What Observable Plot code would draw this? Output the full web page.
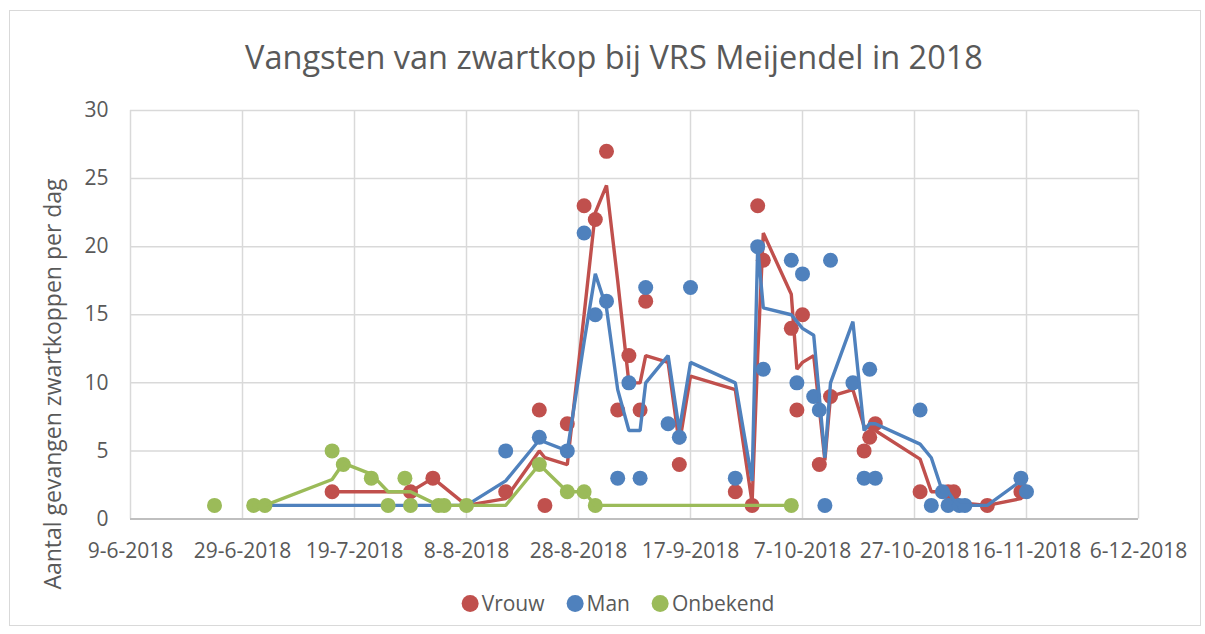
<!DOCTYPE html>
<html>
<head>
<meta charset="utf-8">
<script src="https://cdn.jsdelivr.net/npm/d3@7"></script>
<script src="https://cdn.jsdelivr.net/npm/@observablehq/plot@0.6"></script>
<style>
  body { margin: 0; background: #fff; font-family: "Open Sans", sans-serif; }
  #chart { position: relative; width: 1205px; height: 634px; overflow: hidden; background: #fff; }
  #frame { position: absolute; left: 9px; top: 10px; width: 1192px; height: 616px; border: 1px solid #d9d9d9; box-sizing: border-box; }
  #title { position: absolute; top: 36px; left: 614px; transform: translateX(-50%); white-space: nowrap;
           font-size: 32.5px; color: #595959; line-height: 42px; }
  #plot { position: absolute; left: 0; top: 90px; }
  #ylabel { position: absolute; left: 52px; top: 384px; transform: translate(-50%, -50%) rotate(-90deg);
            white-space: nowrap; font-size: 23px; color: #595959; line-height: 30px; }
  #legend { position: absolute; top: 588px; left: 618px; transform: translateX(-50%); white-space: nowrap;
            font-size: 21px; color: #595959; line-height: 30px; display: flex; gap: 22px; }
  #legend .item { display: flex; align-items: center; gap: 3px; }
  #legend .sw { display: inline-block; width: 17px; height: 17px; border-radius: 50%; }
</style>
</head>
<body>
<div id="chart">
  <div id="frame"></div>
  <div id="title"></div>
  <div id="plot"></div>
  <div id="ylabel"></div>
  <div id="legend"></div>
</div>
<script>
// ---- Data ----
const titleText = "Vangsten van zwartkop bij VRS Meijendel in 2018";
const yLabelText = "Aantal gevangen zwartkoppen per dag";
const seriesNames = ["Vrouw", "Man", "Onbekend"];
const seriesColors = ["#C0504D", "#4F81BD", "#9BBB59"];

const xTickLabels = ["9-6-2018","29-6-2018","19-7-2018","8-8-2018","28-8-2018","17-9-2018","7-10-2018","27-10-2018","16-11-2018","6-12-2018"];
const yTicks = [0, 5, 10, 15, 20, 25, 30];

const vrouwDates = ["2018-07-15","2018-07-29","2018-08-02","2018-08-15","2018-08-21","2018-08-22","2018-08-26","2018-08-29","2018-08-31","2018-09-02","2018-09-04","2018-09-06","2018-09-08","2018-09-09","2018-09-15","2018-09-25","2018-09-28","2018-09-29","2018-09-30","2018-10-05","2018-10-06","2018-10-07","2018-10-10","2018-10-12","2018-10-18","2018-10-19","2018-10-20","2018-10-28","2018-11-02","2018-11-03","2018-11-09","2018-11-15"];
const vrouwValues = [2,2,3,2,8,1,7,23,22,27,8,12,8,16,4,2,1,23,19,14,8,15,4,9,5,6,7,2,2,2,1,2];

const manDates = ["2018-08-15","2018-08-21","2018-08-26","2018-08-29","2018-08-31","2018-09-02","2018-09-04","2018-09-06","2018-09-08","2018-09-09","2018-09-13","2018-09-15","2018-09-17","2018-09-25","2018-09-29","2018-09-30","2018-10-05","2018-10-06","2018-10-07","2018-10-09","2018-10-10","2018-10-11","2018-10-12","2018-10-16","2018-10-18","2018-10-19","2018-10-20","2018-10-28","2018-10-30","2018-11-01","2018-11-02","2018-11-04","2018-11-05","2018-11-15","2018-11-16"];
const manValues = [5,6,5,21,15,16,3,10,3,17,7,6,17,3,20,11,19,10,18,9,8,1,19,10,3,11,3,8,1,2,1,1,1,3,2];

const onbekendDates = ["2018-06-24","2018-07-01","2018-07-03","2018-07-15","2018-07-17","2018-07-22","2018-07-25","2018-07-28","2018-07-29","2018-08-03","2018-08-04","2018-08-08","2018-08-21","2018-08-26","2018-08-29","2018-08-31","2018-10-05"];
const onbekendValues = [1,1,1,5,4,3,1,3,1,1,1,1,4,2,2,1,1];

// Trend lines (moving-average style lines as drawn in the reference)
const vrouwTrendDates = ["2018-07-15","2018-07-29","2018-08-02","2018-08-08","2018-08-15","2018-08-21","2018-08-22","2018-08-26","2018-08-29","2018-08-31","2018-09-02","2018-09-04","2018-09-06","2018-09-08","2018-09-09","2018-09-13","2018-09-15","2018-09-17","2018-09-25","2018-09-28","2018-09-29","2018-09-30","2018-10-05","2018-10-06","2018-10-07","2018-10-09","2018-10-11","2018-10-12","2018-10-16","2018-10-18","2018-10-20","2018-10-28","2018-10-30","2018-11-03","2018-11-04","2018-11-09","2018-11-15"];
const vrouwTrendValues = [2,2,3,1,1.5,5,4.5,4,15,22.5,24.5,17.5,10,10,12,11.5,5.5,10.5,9.5,1.2,12,21,16.5,11,11.5,12,4.3,9,9.5,6.8,6.5,4.4,2,2,1.2,1,1.5];

const manTrendDates = ["2018-07-03","2018-08-08","2018-08-15","2018-08-21","2018-08-26","2018-08-29","2018-08-31","2018-09-02","2018-09-04","2018-09-06","2018-09-08","2018-09-09","2018-09-13","2018-09-15","2018-09-17","2018-09-25","2018-09-28","2018-09-29","2018-09-30","2018-10-05","2018-10-07","2018-10-09","2018-10-11","2018-10-12","2018-10-16","2018-10-18","2018-10-19","2018-10-20","2018-10-28","2018-10-30","2018-11-01","2018-11-02","2018-11-03","2018-11-04","2018-11-09","2018-11-15","2018-11-16"];
const manTrendValues = [1,1,2.8,5.8,5,13,18,15.5,9.5,6.5,6.5,10,12,6.5,11.5,10,2.8,20,15.5,15,14,13.5,4.5,10,14.5,6.5,7,7,5.5,4.5,2,2,1.4,1,1,2.8,2.3];

const onbekendTrendDates = ["2018-07-01","2018-07-03","2018-07-15","2018-07-17","2018-07-22","2018-07-25","2018-07-29","2018-08-03","2018-08-08","2018-08-15","2018-08-21","2018-08-26","2018-08-29","2018-08-31","2018-10-05"];
const onbekendTrendValues = [1,1,2.9,4.1,3.3,2,2,1,1,1,4,2,2,1,1];

// ---- Build ----
const parseISO = d3.utcParse("%Y-%m-%d");
const parseDMY = d3.utcParse("%d-%m-%Y");
const fmtDMY = d3.utcFormat("%-d-%-m-%Y");
const xTicks = xTickLabels.map(parseDMY);

const toRows = (dates, values) => dates.map((d, i) => ({date: parseISO(d), value: values[i]}));
const pointSets = [toRows(vrouwDates, vrouwValues), toRows(manDates, manValues), toRows(onbekendDates, onbekendValues)];
const trendSets = [toRows(vrouwTrendDates, vrouwTrendValues), toRows(manTrendDates, manTrendValues), toRows(onbekendTrendDates, onbekendTrendValues)];

const seriesMarks = [];
for (let s = 0; s < 3; s++) {
  seriesMarks.push(Plot.dot(pointSets[s], {x: "date", y: "value", r: 7.5, fill: seriesColors[s], stroke: "none"}));
  seriesMarks.push(Plot.line(trendSets[s], {x: "date", y: "value", stroke: seriesColors[s], strokeWidth: 3.4, strokeLinejoin: "miter"}));
}

const chart = Plot.plot({
  width: 1205,
  height: 490,
  marginLeft: 130,
  marginRight: 67,
  marginTop: 20,
  marginBottom: 61.5,
  style: {fontFamily: "Open Sans, sans-serif", fontSize: "21px", color: "#595959", background: "transparent", overflow: "visible"},
  x: {type: "utc", domain: [xTicks[0], xTicks[xTicks.length - 1]]},
  y: {domain: [0, 30]},
  marks: [
    Plot.gridX(xTicks, {stroke: "#d9d9d9", strokeOpacity: 1, strokeWidth: 1.5}),
    Plot.gridY(yTicks.filter(v => v > 0), {stroke: "#d9d9d9", strokeOpacity: 1, strokeWidth: 1.5}),
    Plot.ruleY([0], {stroke: "#bfbfbf", strokeWidth: 2}),
    Plot.axisX(xTicks, {tickSize: 0, tickPadding: 24, tickFormat: fmtDMY, label: null, fill: "#595959"}),
    Plot.axisY(yTicks, {tickSize: 0, tickPadding: 22, label: null, fill: "#595959"}),
    ...seriesMarks
  ]
});
document.getElementById("plot").appendChild(chart);

document.getElementById("title").textContent = titleText;
document.getElementById("ylabel").textContent = yLabelText;

const legend = document.getElementById("legend");
seriesNames.forEach((name, i) => {
  const item = document.createElement("span");
  item.className = "item";
  const sw = document.createElement("span");
  sw.className = "sw";
  sw.style.background = seriesColors[i];
  const t = document.createElement("span");
  t.textContent = name;
  item.appendChild(sw);
  item.appendChild(t);
  legend.appendChild(item);
});
</script>
</body>
</html>
